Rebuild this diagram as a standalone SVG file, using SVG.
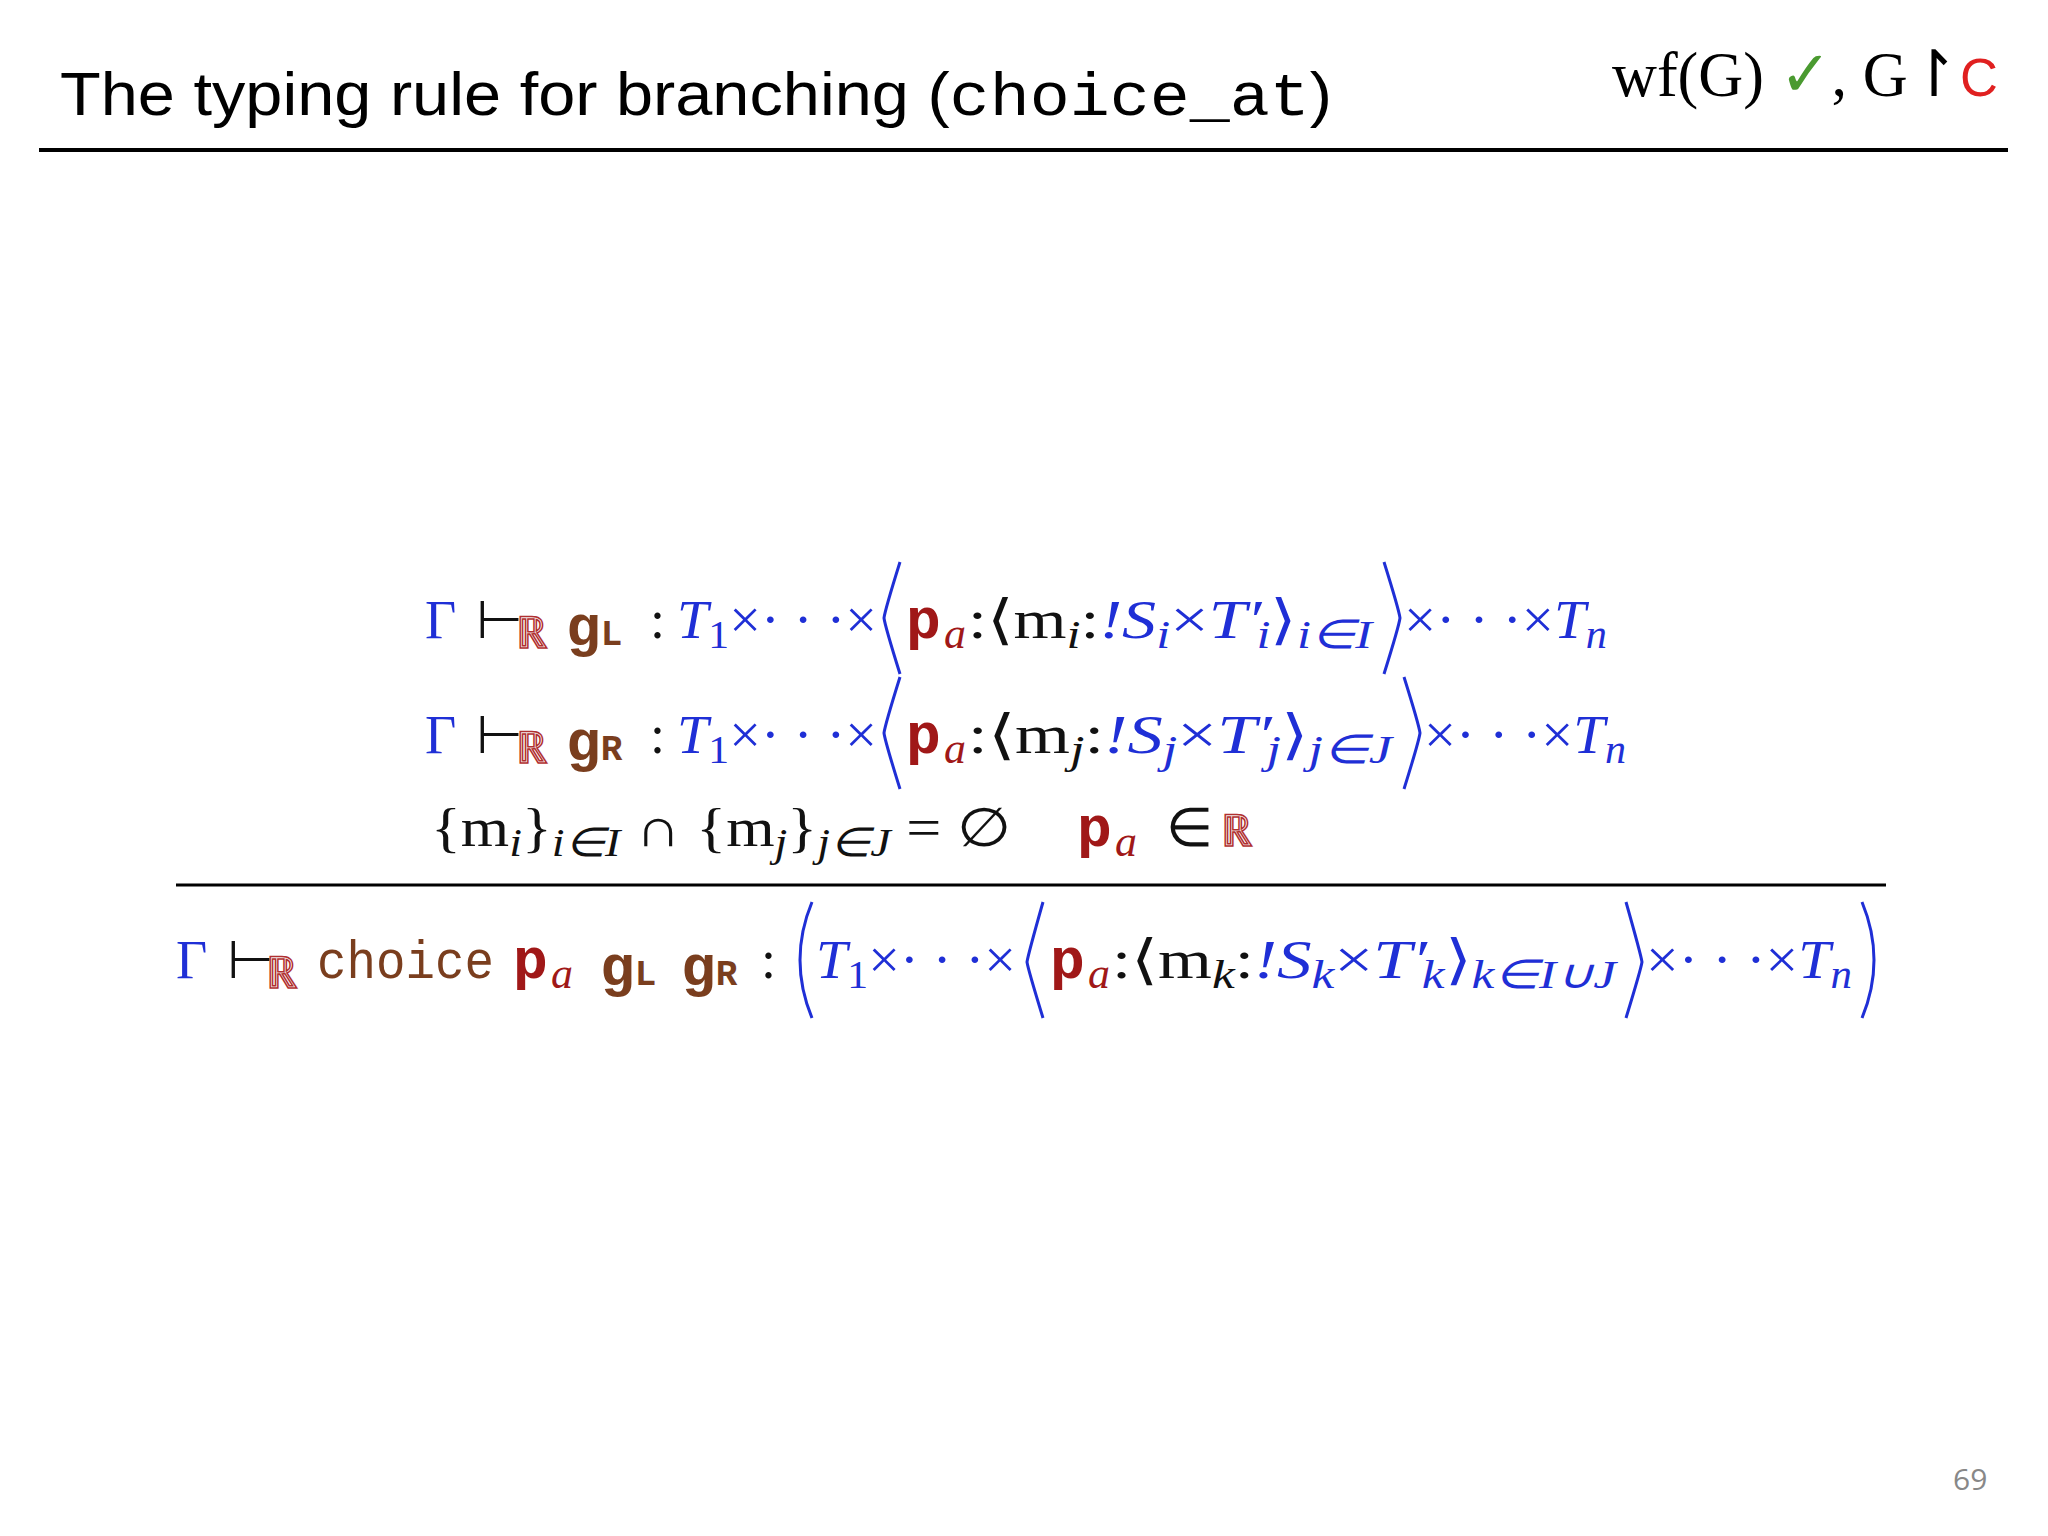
<svg xmlns="http://www.w3.org/2000/svg" width="2048" height="1536" viewBox="0 0 2048 1536">
<style>
.b{fill:#1f2fd6;font-family:"Liberation Serif",serif;font-size:54px}
.bi{fill:#1f2fd6;font-family:"Liberation Serif",serif;font-style:italic;font-size:54px}
.k{fill:#111;font-family:"Liberation Serif",serif;font-size:54px}
.r{fill:#a01818;font-family:"Liberation Mono",monospace;font-weight:bold;font-size:58px}
.ri{fill:#a01818;font-family:"Liberation Serif",serif;font-style:italic;font-size:44px}
.g{fill:#7a3e1e;font-family:"Liberation Mono",monospace;font-weight:bold;font-size:58px}
.rr{fill:#fff;stroke:#b03030;stroke-width:1.5;font-family:"Liberation Serif",serif;font-size:44px}
.br{fill:none;stroke:#1f2fd6;stroke-width:3}
</style>
<rect width="2048" height="1536" fill="#fff"/>
<g id="title">
<text x="60" y="115" font-family="Liberation Sans,sans-serif" font-size="62" fill="#000" textLength="1272" lengthAdjust="spacingAndGlyphs">The typing rule for branching (<tspan font-family="Liberation Mono,monospace">choice_at</tspan>)</text>
<text x="1612" y="96" font-family="Liberation Serif,serif" font-size="64" fill="#000" textLength="386" lengthAdjust="spacingAndGlyphs">wf(G) <tspan fill="#4a9a30" font-family="DejaVu Sans,sans-serif" font-weight="bold">✓</tspan>, G↾<tspan fill="#e02020" font-family="Liberation Sans,sans-serif" font-size="54">C</tspan></text>
<line x1="39" y1="150" x2="2008" y2="150" stroke="#000" stroke-width="4"/>
</g>
<g id="premise1">
<text x="425" y="638" class="b">Γ</text><text x="476" y="638" class="k" font-size="42">⊢</text><text x="516" y="648" class="rr">ℝ</text>
<text x="566" y="645" class="g">g<tspan font-size="36">L</tspan></text>
<text x="650" y="638" class="k">:</text>
<text x="677" y="638" class="bi" textLength="200" lengthAdjust="spacingAndGlyphs">T<tspan font-style="normal" font-size="40" dy="10">1</tspan><tspan font-style="normal" dy="-10">×· · ·×</tspan></text>
<path class="br" d="M900 562 Q885 610 884 618 Q885 626 900 674"/>
<text x="906" y="638" class="r">p</text><text x="944" y="648" class="ri">a</text>
<text x="968" y="638" class="k" textLength="404" lengthAdjust="spacingAndGlyphs">:⟨m<tspan font-style="italic" font-size="40" dy="10">i</tspan><tspan dy="-10">:</tspan><tspan fill="#1f2fd6" font-style="italic">!S<tspan font-size="40" dy="10">i</tspan><tspan dy="-10" font-style="normal">×</tspan>T′<tspan dx="-4" font-size="40" dy="10">i</tspan><tspan font-style="normal" dy="-10">⟩</tspan><tspan font-size="40" dy="10">i∈I</tspan></tspan></text>
<path class="br" d="M1384 562 Q1399 610 1400 618 Q1399 626 1384 674"/>
<text x="1404" y="638" class="b" textLength="203" lengthAdjust="spacingAndGlyphs">×· · ·×<tspan font-style="italic">T</tspan><tspan font-style="italic" font-size="40" dy="10">n</tspan></text>
</g>
<g id="premise2">
<text x="425" y="753" class="b">Γ</text><text x="476" y="753" class="k" font-size="42">⊢</text><text x="516" y="763" class="rr">ℝ</text>
<text x="566" y="760" class="g">g<tspan font-size="36">R</tspan></text>
<text x="650" y="753" class="k">:</text>
<text x="677" y="753" class="bi" textLength="200" lengthAdjust="spacingAndGlyphs">T<tspan font-style="normal" font-size="40" dy="10">1</tspan><tspan font-style="normal" dy="-10">×· · ·×</tspan></text>
<path class="br" d="M900 677 Q885 725 884 733 Q885 741 900 789"/>
<text x="906" y="753" class="r">p</text><text x="944" y="763" class="ri">a</text>
<text x="968" y="753" class="k" textLength="424" lengthAdjust="spacingAndGlyphs">:⟨m<tspan font-style="italic" font-size="40" dy="10">j</tspan><tspan dy="-10">:</tspan><tspan fill="#1f2fd6" font-style="italic">!S<tspan font-size="40" dy="10">j</tspan><tspan dy="-10" font-style="normal">×</tspan>T′<tspan dx="-4" font-size="40" dy="10">j</tspan><tspan font-style="normal" dy="-10">⟩</tspan><tspan font-size="40" dy="10">j∈J</tspan></tspan></text>
<path class="br" d="M1404 677 Q1419 725 1420 733 Q1419 741 1404 789"/>
<text x="1424" y="753" class="b" textLength="202" lengthAdjust="spacingAndGlyphs">×· · ·×<tspan font-style="italic">T</tspan><tspan font-style="italic" font-size="40" dy="10">n</tspan></text>
</g>
<g id="premise3">
<text x="431" y="846" class="k" textLength="580" lengthAdjust="spacingAndGlyphs">{m<tspan font-style="italic" font-size="40" dy="10">i</tspan><tspan dy="-10">}</tspan><tspan font-style="italic" font-size="40" dy="10">i∈I</tspan><tspan dy="-10"> ∩ {m</tspan><tspan font-style="italic" font-size="40" dy="10">j</tspan><tspan dy="-10">}</tspan><tspan font-style="italic" font-size="40" dy="10">j∈J</tspan><tspan dy="-10"> = ∅</tspan></text>
<text x="1077" y="846" class="r">p</text><text x="1115" y="856" class="ri">a</text>
<text x="1166" y="846" class="k">∈</text><text x="1221" y="846" class="rr" font-size="54">ℝ</text>
</g>
<g id="rule"><line x1="176" y1="885" x2="1886" y2="885" stroke="#000" stroke-width="3"/></g>
<g id="conclusion">
<text x="176" y="978" class="b">Γ</text><text x="227" y="978" class="k" font-size="42">⊢</text><text x="266" y="988" class="rr">ℝ</text>
<text x="317" y="978" font-family="Liberation Mono,monospace" font-size="54" fill="#7a3e1e" textLength="177" lengthAdjust="spacingAndGlyphs">choice</text>
<text x="513" y="978" class="r">p</text><text x="551" y="988" class="ri">a</text>
<text x="600" y="985" class="g">g<tspan font-size="36">L</tspan></text>
<text x="681" y="985" class="g">g<tspan font-size="36">R</tspan></text>
<text x="761" y="978" class="k">:</text>
<path class="br" d="M812 902 Q788 960 812 1018"/>
<text x="816" y="978" class="bi" textLength="200" lengthAdjust="spacingAndGlyphs">T<tspan font-style="normal" font-size="40" dy="10">1</tspan><tspan font-style="normal" dy="-10">×· · ·×</tspan></text>
<path class="br" d="M1043 902 Q1028 955 1027 962 Q1028 969 1043 1018"/>
<text x="1050" y="978" class="r">p</text><text x="1088" y="988" class="ri">a</text>
<text x="1112" y="978" class="k" textLength="504" lengthAdjust="spacingAndGlyphs">:⟨m<tspan font-style="italic" font-size="40" dy="10">k</tspan><tspan dy="-10">:</tspan><tspan fill="#1f2fd6" font-style="italic">!S<tspan font-size="40" dy="10">k</tspan><tspan dy="-10" font-style="normal">×</tspan>T′<tspan dx="-4" font-size="40" dy="10">k</tspan><tspan font-style="normal" dy="-10">⟩</tspan><tspan font-size="40" dy="10">k∈I∪J</tspan></tspan></text>
<path class="br" d="M1626 902 Q1641 955 1642 962 Q1641 969 1626 1018"/>
<text x="1646" y="978" class="b" textLength="206" lengthAdjust="spacingAndGlyphs">×· · ·×<tspan font-style="italic">T</tspan><tspan font-style="italic" font-size="40" dy="10">n</tspan></text>
<path class="br" d="M1862 902 Q1886 960 1862 1018"/>
</g>
<text x="1953" y="1490" font-family="Open Sans,sans-serif" font-size="30" fill="#888">69</text>
</svg>
